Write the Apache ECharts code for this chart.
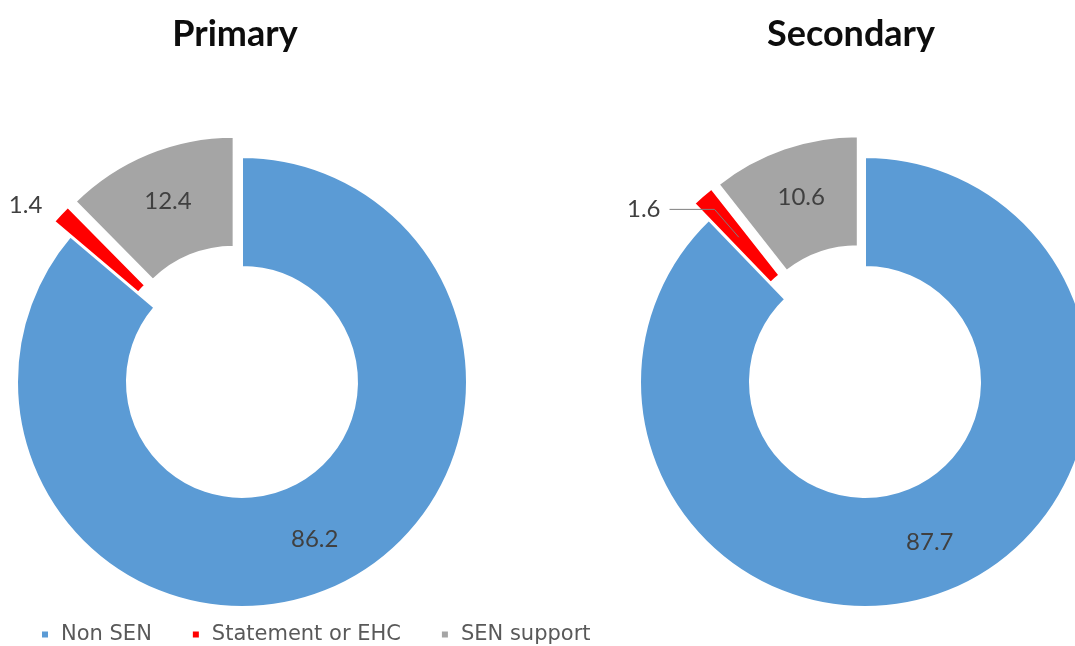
<!DOCTYPE html>
<html>
<head>
<meta charset="utf-8">
<title>Pupils by SEN provision</title>
<script src="https://cdn.jsdelivr.net/npm/echarts@6/dist/echarts.min.js"></script>
<style>
  html, body { margin: 0; padding: 0; background: #ffffff; }
  #chart { width: 1075px; height: 646px; }
</style>
</head>
<body>
<div id="chart"></div>
<script>
// Share of pupils (%) by SEN provision, primary and secondary schools
const categories = ['Non SEN', 'Statement or EHC', 'SEN support'];
const primaryValues = [86.2, 1.4, 12.4];
const secondaryValues = [87.7, 1.6, 10.6];
const panelTitles = ['Primary', 'Secondary'];

const colors = ['#5B9BD5', '#FF0000', '#A5A5A5'];
const explodedIndex = [1, 2];          // slices pulled out of the ring
const smallIndex = 1;                  // slice labelled outside the ring
const labelFont = 'Lato, "Open Sans", sans-serif';

const panels = [
  { title: panelTitles[0], values: primaryValues, center: [242, 382], titleX: 235,
    note: { outer: 225, length: 13, length2: 4, gap: 5, line: false } },
  { title: panelTitles[1], values: secondaryValues, center: [865, 382], titleX: 851,
    note: { outer: 170, length: 37, length2: 45, gap: 9, line: true } }
];

function ringData(values, labelFor) {
  return values.map((v, i) => ({
    name: categories[i],
    value: v,
    selected: explodedIndex.indexOf(i) >= 0,
    itemStyle: { color: colors[i] },
    label: labelFor(i)
  }));
}

const series = [];
panels.forEach(p => {
  // the ring itself, with in-slice value labels
  series.push({
    type: 'pie',
    z: 2,
    center: p.center,
    radius: [115, 225],
    startAngle: 90,
    clockwise: true,
    selectedMode: 'multiple',
    selectedOffset: 22,
    avoidLabelOverlap: false,
    silent: true,
    itemStyle: { borderColor: '#ffffff', borderWidth: 2 },
    label: {
      show: true, position: 'inside', formatter: '{c}',
      color: '#404040', fontSize: 24, fontFamily: labelFont
    },
    labelLine: { show: false },
    data: ringData(p.values, i => {
      if (i === smallIndex) return { show: false };
      if (i === 2) return { padding: [10, 0, 0, 0] };
      return {};
    })
  });
  // transparent twin that carries the outside label of the thin slice
  series.push({
    type: 'pie',
    z: 3,
    center: p.center,
    radius: [115, p.note.outer],
    startAngle: 90,
    clockwise: true,
    selectedMode: 'multiple',
    selectedOffset: 22,
    avoidLabelOverlap: false,
    silent: true,
    label: {
      show: true, position: 'outside', formatter: '{c}',
      color: '#404040', fontSize: 24, fontFamily: labelFont,
      distanceToLabelLine: p.note.gap
    },
    labelLine: {
      show: p.note.line, length: p.note.length, length2: p.note.length2,
      lineStyle: { color: '#7F7F7F', width: 1 }
    },
    data: ringData(p.values, i => (i === smallIndex ? {} : { show: false })).map(d => {
      d.itemStyle = { color: 'rgba(0,0,0,0)' };
      return d;
    })
  });
});

const chart = echarts.init(document.getElementById('chart'), null, { renderer: 'canvas' });
chart.setOption({
  animation: false,
  backgroundColor: '#ffffff',
  color: colors,
  title: panels.map(p => ({
    text: p.title,
    left: p.titleX,
    top: 16,
    textAlign: 'center',
    padding: 0,
    textStyle: { fontFamily: labelFont, fontWeight: 'bold', fontSize: 36, color: '#0D0D0D' }
  })),
  legend: {
    data: categories,
    left: 40,
    top: 624,
    orient: 'horizontal',
    icon: 'rect',
    itemWidth: 8,
    itemHeight: 8,
    itemGap: 39,
    padding: 0,
    selectedMode: false,
    textStyle: {
      fontFamily: '"DejaVu Sans", sans-serif', fontSize: 21, color: '#595959',
      padding: [0, 0, 0, 7]
    }
  },
  series: series
});
</script>
</body>
</html>
